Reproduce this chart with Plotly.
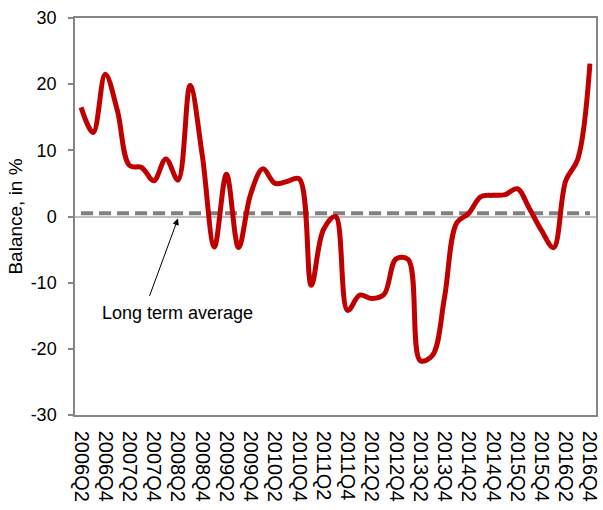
import plotly.graph_objects as go

# Quarterly periods, 2006Q2 .. 2016Q4
quarters = [
    "2006Q2", "2006Q3", "2006Q4",
    "2007Q1", "2007Q2", "2007Q3", "2007Q4",
    "2008Q1", "2008Q2", "2008Q3", "2008Q4",
    "2009Q1", "2009Q2", "2009Q3", "2009Q4",
    "2010Q1", "2010Q2", "2010Q3", "2010Q4",
    "2011Q1", "2011Q2", "2011Q3", "2011Q4",
    "2012Q1", "2012Q2", "2012Q3", "2012Q4",
    "2013Q1", "2013Q2", "2013Q3", "2013Q4",
    "2014Q1", "2014Q2", "2014Q3", "2014Q4",
    "2015Q1", "2015Q2", "2015Q3", "2015Q4",
    "2016Q1", "2016Q2", "2016Q3", "2016Q4",
]

# Balance of responses, in %
balance = [
    16.5, 12.7, 21.5,
    16.0, 7.7, 7.4, 5.4,
    8.7, 5.5, 19.8, 9.3,
    -4.6, 6.4, -4.7, 3.4,
    7.2, 5.0, 5.3, 5.7,
    -10.4, -2.0, 0.0, -14.2,
    -11.9, -12.4, -11.8, -6.4,
    -6.5, -21.8, -21.0, -12.2,
    -1.0, 0.5, 3.0, 3.2,
    3.3, 4.2, 1.2, -2.1,
    -4.7, 5.4, 8.7, 23.1,
]

long_term_average = 0.5

# Labels shown on the category axis (every second quarter)
x_tick_labels = quarters[::2]

# Value-axis ticks, written with a plain hyphen
y_tick_values = [-30, -20, -10, 0, 10, 20, 30]
y_tick_labels = ["-30", "-20", "-10", "0", "10", "20", "30"]

FONT = "Liberation Sans, Arial, sans-serif"
AXIS_GREY = "#868686"

fig = go.Figure()

fig.add_trace(go.Scatter(
    x=quarters,
    y=[long_term_average] * len(quarters),
    mode="lines",
    line=dict(color="#808080", width=4, dash="12px,6px"),
    hoverinfo="skip",
    showlegend=False,
))

fig.add_trace(go.Scatter(
    x=quarters,
    y=balance,
    mode="lines",
    line=dict(color="#C00000", width=5, shape="spline", smoothing=1),
    showlegend=False,
))

# Arrow pointing at the average line
fig.add_annotation(
    x=quarters[8], y=-0.3, xref="x", yref="y",
    text="", showarrow=True,
    ax=-29, ay=79, axref="pixel", ayref="pixel",
    arrowhead=2, arrowsize=1.3, arrowwidth=1, arrowcolor="#000000",
)
fig.add_annotation(
    x=quarters[8], y=-14.6, xref="x", yref="y",
    text="Long term average", showarrow=False,
    font=dict(family=FONT, size=18, color="#000000"),
)

fig.update_layout(
    width=603, height=510,
    margin=dict(l=75, r=2, t=18, b=95),
    paper_bgcolor="white", plot_bgcolor="white",
    font=dict(family=FONT, size=18, color="#000000"),
)

fig.update_xaxes(
    type="category",
    categoryorder="array", categoryarray=quarters,
    range=[-0.5, len(quarters) - 0.5],
    tickmode="array", tickvals=x_tick_labels, ticktext=x_tick_labels,
    tickangle=90,
    tickfont=dict(family=FONT, size=20, color="#000000"),
    ticks="", ticklabelstandoff=10,
    showgrid=False, zeroline=False,
    showline=True, linecolor=AXIS_GREY, linewidth=1.5, mirror=True,
)

fig.update_yaxes(
    range=[-30, 30],
    tickmode="array", tickvals=y_tick_values, ticktext=y_tick_labels,
    ticks="outside", ticklen=5, tickcolor=AXIS_GREY, tickwidth=1.5,
    ticklabelstandoff=8,
    tickfont=dict(family=FONT, size=18, color="#000000"),
    showgrid=False,
    zeroline=True, zerolinecolor="#c0c0c0", zerolinewidth=2,
    showline=True, linecolor=AXIS_GREY, linewidth=1.5, mirror=True,
    title=dict(text="Balance, in %", font=dict(family=FONT, size=19, color="#000000"),
               standoff=3),
)

fig.write_html("out.html")
